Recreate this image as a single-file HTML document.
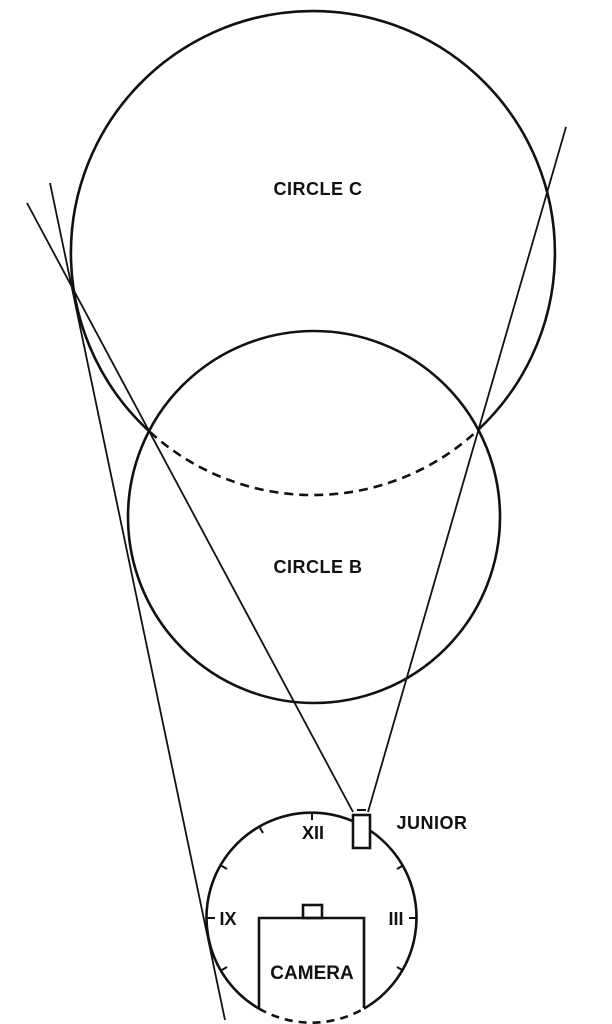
<!DOCTYPE html>
<html><head><style>body{margin:0;background:#fff}svg{display:block}</style></head><body>
<svg width="612" height="1024" viewBox="0 0 612 1024" xmlns="http://www.w3.org/2000/svg">
<g fill="none" stroke="#111" stroke-width="2.6">
<path d="M150 432 A242 242 0 1 1 478 430"/>
<path d="M150 432 A242 242 0 0 0 478 430" stroke-dasharray="9 6"/>
<circle cx="314" cy="517" r="186"/>
<path d="M259 1008.6 A105 105 0 1 1 364 1008.6"/>
<path d="M259 1008.6 A105 105 0 0 0 364 1008.6" stroke-dasharray="8 6"/>
<path d="M259 1008 V918 H364 V1008"/>
<rect x="303" y="905" width="19" height="13"/>
<rect x="353" y="815" width="17" height="33" fill="#fff"/>
<line x1="357" y1="810" x2="366" y2="810" stroke-width="2"/>
</g>
<g stroke="#111" stroke-width="1.8" fill="none">
<line x1="27" y1="203" x2="353" y2="812"/>
<line x1="566" y1="127" x2="368" y2="812"/>
<line x1="50" y1="183" x2="225" y2="1020"/>
</g>
<g stroke="#111" stroke-width="2">
<line x1="207" y1="918" x2="215" y2="918"/>
<line x1="417" y1="918" x2="409" y2="918"/>
<line x1="312" y1="813" x2="312" y2="820"/>
<line x1="221" y1="865.5" x2="227" y2="869"/>
<line x1="403" y1="865.5" x2="397" y2="869"/>
<line x1="259.5" y1="827" x2="263" y2="833"/>
<line x1="221" y1="970.5" x2="227" y2="967"/>
<line x1="403" y1="970.5" x2="397" y2="967"/>
</g>
<g font-family="Liberation Sans, sans-serif" font-weight="bold" font-size="18" fill="#111" text-anchor="middle">
<text x="318" y="195" letter-spacing="0.5">CIRCLE C</text>
<text x="318" y="573" letter-spacing="0.5">CIRCLE B</text>
<text x="432" y="829" letter-spacing="0.5">JUNIOR</text>
<text x="313" y="839">XII</text>
<text x="228" y="925">IX</text>
<text x="396" y="925">III</text>
<text x="312" y="979" font-size="19">CAMERA</text>
</g>
</svg>
</body></html>
